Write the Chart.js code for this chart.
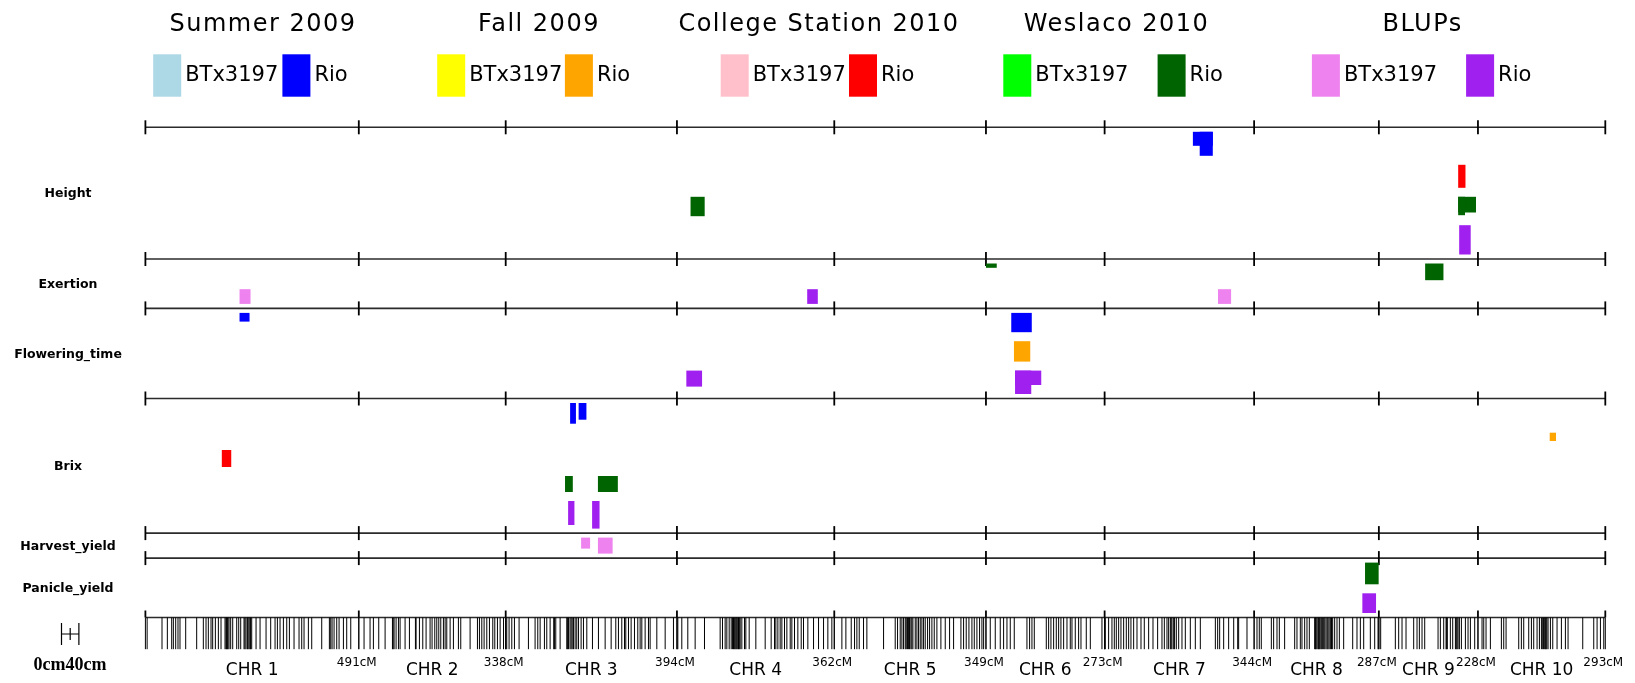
<!DOCTYPE html>
<html>
<head>
<meta charset="utf-8">
<title>QTL map</title>
<script src="https://cdn.jsdelivr.net/npm/chart.js@4.4.1/dist/chart.umd.min.js"></script>
<style>
  html, body { margin: 0; padding: 0; background: #ffffff; }
  canvas { display: block; }
</style>
</head>
<body>
<canvas id="qtl" width="1635" height="683"></canvas>
<script>
// ---- Map data -------------------------------------------------------------
const chromosomes = ['1', '2', '3', '4', '5', '6', '7', '8', '9', '10'];
const chromosomeLengths = [491, 338, 394, 362, 349, 273, 344, 287, 228, 293]; // cM
const traits = ['Height', 'Exertion', 'Flowering_time', 'Brix', 'Harvest_yield', 'Panicle_yield'];
const environments = ['Summer 2009', 'Fall 2009', 'College Station 2010', 'Weslaco 2010', 'BLUPs'];
const parents = ['BTx3197', 'Rio'];

// QTL intervals: [environment, parental allele, chromosome, start cM, end cM, score]
const heightQTL = [
  ['Weslaco 2010', 'Rio', '4', 31.3, 63.8, 19.4],
  ['Summer 2009', 'Rio', '7', 203.1, 248.9, 14.0],
  ['Summer 2009', 'Rio', '7', 218.8, 248.9, 24.0],
  ['College Station 2010', 'Rio', '9', 182.5, 199.3, 23.0],
  ['Weslaco 2010', 'Rio', '9', 182.5, 223.5, 15.7],
  ['Weslaco 2010', 'Rio', '9', 182.5, 198.2, 18.4],
  ['BLUPs', 'Rio', '9', 184.8, 211.3, 29.3]
];
const exertionQTL = [
  ['Weslaco 2010', 'Rio', '6', 0.0, 24.8, 4.3],
  ['Weslaco 2010', 'Rio', '9', 106.5, 148.6, 16.7],
  ['BLUPs', 'BTx3197', '1', 216.6, 241.9, 14.7],
  ['BLUPs', 'Rio', '4', 299.7, 324.1, 14.7],
  ['BLUPs', 'BTx3197', '7', 260.9, 291.0, 14.7]
];
const floweringQTL = [
  ['Summer 2009', 'Rio', '1', 216.6, 239.6, 8.7],
  ['Summer 2009', 'Rio', '6', 58.2, 105.4, 19.3],
  ['Fall 2009', 'Rio', '6', 64.4, 101.9, 20.4],
  ['BLUPs', 'Rio', '6', 66.9, 127.2, 14.4],
  ['BLUPs', 'Rio', '6', 66.9, 104.2, 23.4],
  ['BLUPs', 'Rio', '4', 21.6, 57.8, 16.0]
];
const brixQTL = [
  ['Summer 2009', 'Rio', '3', 148.2, 161.6, 20.7],
  ['Summer 2009', 'Rio', '3', 167.8, 185.7, 16.7],
  ['Fall 2009', 'Rio', '10', 165.1, 179.6, 8.3],
  ['College Station 2010', 'Rio', '1', 175.8, 197.5, 17.0],
  ['Weslaco 2010', 'Rio', '3', 136.5, 154.4, 16.0],
  ['Weslaco 2010', 'Rio', '3', 212.2, 258.0, 16.0],
  ['BLUPs', 'Rio', '3', 143.6, 158.1, 24.0],
  ['BLUPs', 'Rio', '3', 198.8, 215.9, 27.6]
];
const harvestQTL = [
  ['BLUPs', 'BTx3197', '3', 173.5, 194.2, 11.0],
  ['BLUPs', 'BTx3197', '3', 212.2, 246.0, 16.0]
];
const panicleQTL = [
  ['Weslaco 2010', 'Rio', '8', 255.2, 286.5, 21.7],
  ['BLUPs', 'Rio', '8', 249.0, 280.5, 19.7]
];

// Genetic marker positions (cM) on each chromosome
const markersChr1 = [0, 4, 38.2, 50.5, 60.5, 64.3, 69.7, 75.0, 79.6, 92.7, 118.0, 133.3, 139.5, 144.8, 151.0, 154.8, 161.0, 167.9, 174.0, 183.2, 185.5, 186.8, 188.6, 190.0, 192.4, 196.2, 200.9, 210.1, 214.7, 219.3, 226.9, 229.0, 231.5, 234.6, 236.0, 238.4, 240.7, 242.0, 244.6, 254.6, 263.8, 277.6, 288.3, 298.3, 303.7, 309.8, 317.5, 325.2, 331.3, 342.0, 353.5, 359.7, 365.0, 375.0, 382.7, 405.7, 423.3, 426.4, 429.5, 434.1, 440.2, 445.6, 455.6, 463.2, 472.5, 491];
const markersChr2 = [0, 12.1, 25.9, 33.6, 45.9, 60.5, 77.4, 79.0, 81.2, 85.8, 91.2, 95.0, 106.5, 116.5, 130.3, 131.8, 139.5, 147.2, 154.8, 164.0, 168.6, 174.8, 179.4, 184.0, 188.6, 194.7, 198.6, 202.4, 210.1, 217.7, 229.2, 234.6, 256.1, 273.0, 277.6, 283.0, 288.3, 294.5, 300.6, 308.3, 312.9, 319.0, 325.2, 333.0, 338];
const markersChr3 = [0, 2.4, 7.8, 14.0, 20.1, 30.8, 52.3, 67.6, 73.8, 79.2, 89.1, 94.5, 102.2, 110.5, 112.1, 115.2, 125.2, 140.5, 142.5, 144.4, 148.0, 150.5, 153.0, 155.9, 159.7, 163.5, 167.4, 173.5, 178.9, 186.6, 199.6, 213.4, 228.8, 242.6, 253.3, 259.4, 267.1, 273.3, 276.3, 282.5, 288.6, 296.3, 303.9, 309.3, 313.2, 320.8, 328.5, 332.3, 347.7, 366.9, 386.0, 394];
const markersChr4 = [0, 2.0, 11.2, 25.0, 41.9, 63.4, 99.4, 104.8, 110.9, 114.8, 120.2, 124.8, 128.0, 130.1, 132.0, 134.0, 136.0, 137.8, 140.0, 141.6, 143.5, 145.5, 149.3, 155.4, 158.5, 166.2, 181.5, 203.0, 216.8, 224.5, 227.6, 232.2, 237.5, 241.4, 247.5, 252.9, 260.6, 264.4, 270.5, 278.2, 285.9, 291.2, 301.2, 314.3, 325.8, 337.3, 347.2, 356.4, 362];
const markersChr5 = [0, 17.5, 26.7, 39.0, 46.6, 52.0, 57.4, 67.3, 75.0, 113.4, 140.2, 145.6, 151.7, 155.6, 159.4, 163.3, 165.6, 168.6, 171.0, 173.2, 176.3, 178.5, 180.9, 186.3, 190.1, 193.9, 197.8, 201.6, 205.5, 209.3, 214.7, 219.3, 224.6, 230.0, 236.1, 245.3, 255.3, 265.3, 274.5, 291.4, 297.5, 303.6, 309.8, 316.7, 322.1, 328.2, 334.3, 339.7, 343.6, 349];
const markersChr6 = [0, 9.9, 21.4, 32.9, 40.6, 48.3, 55.9, 65.1, 94.3, 100.4, 105.8, 111.2, 138.8, 144.2, 149.5, 155.7, 161.8, 167.2, 172.5, 178.7, 186.4, 194.0, 197.9, 205.5, 213.2, 218.6, 230.8, 240.1, 266.9, 273];
const markersChr7 = [0, 1.6, 9.2, 16.9, 22.3, 26.9, 32.3, 37.6, 43.8, 49.9, 55.3, 60.6, 66.8, 74.5, 83.7, 91.3, 101.3, 111.3, 122.0, 132.0, 137.4, 143.5, 147.3, 151.2, 153.0, 155.0, 158.9, 161.0, 165.0, 170.4, 178.0, 185.7, 197.2, 208.7, 220.2, 254.8, 260.1, 264.7, 273.9, 285.4, 297.0, 306.2, 308.4, 327.6, 344];
const markersChr8 = [0, 6.6, 11.9, 16.5, 39.6, 44.9, 52.6, 58.0, 70.2, 93.3, 98.6, 106.3, 110.1, 116.3, 121.6, 127.0, 139.3, 141.0, 142.4, 144.5, 147.0, 148.5, 150.0, 152.0, 154.6, 157.0, 160.0, 162.5, 165.4, 168.0, 170.0, 172.5, 175.4, 178.0, 180.7, 185.3, 190.7, 196.1, 206.0, 226.8, 236.7, 244.4, 252.1, 267.4, 277.4, 285.1, 287];
const markersChr9 = [0, 4.2, 37.9, 45.6, 53.3, 62.5, 80.1, 87.8, 93.2, 99.3, 105.5, 136.2, 141.5, 149.2, 154.6, 156.0, 157.5, 164.5, 169.9, 176.1, 178.0, 180.0, 182.2, 185.3, 189.9, 199.1, 205.2, 210.6, 220.5, 228];
const markersChr10 = [0, 9.4, 13.3, 18.6, 28.6, 53.9, 59.3, 64.7, 93.8, 99.9, 105.3, 116.8, 123.0, 128.3, 136.0, 141.4, 146.0, 149.0, 151.0, 153.6, 155.0, 156.7, 158.5, 161.3, 166.7, 172.1, 182.0, 192.0, 201.2, 207.3, 241.1, 266.4, 274.1, 281.8, 289.5, 293];

// ---- Styling ----------------------------------------------------------------
const palette = {
  'Summer 2009': { BTx3197: '#add8e6', Rio: '#0000ff' },
  'Fall 2009': { BTx3197: '#ffff00', Rio: '#ffa500' },
  'College Station 2010': { BTx3197: '#ffc0cb', Rio: '#ff0000' },
  'Weslaco 2010': { BTx3197: '#00ff00', Rio: '#006400' },
  'BLUPs': { BTx3197: '#ee82ee', Rio: '#a020f0' }
};
const titleCenters = [263, 539, 819, 1116.5, 1422.6];
const legendSwatchX = [[153.2, 282.4], [437.2, 564.9], [720.7, 849.0], [1003.3, 1157.6], [1311.9, 1466.1]];

const FONT = '"DejaVu Sans", "Liberation Sans", sans-serif';
const PAD = 4.5;   // space above the first lane and below the last lane of a trait panel
const GAP = 9.0;   // space between environment lanes
const RUG = 31.7;  // height of the marker strip

// ---- Layout of the trait panels --------------------------------------------
const qtlByTrait = [heightQTL, exertionQTL, floweringQTL, brixQTL, harvestQTL, panicleQTL];
const chrOffset = [];
chromosomeLengths.reduce((acc, len, i) => { chrOffset[i] = acc; return acc + len; }, 0);
const genomeLength = chromosomeLengths.reduce((a, b) => a + b, 0);
const chrIndex = name => chromosomes.indexOf(name);

const rowBounds = [];
const boxesByGroup = {};
let cursor = 0;
qtlByTrait.forEach(list => {
  const top = cursor;
  let y = top + PAD;
  let first = true;
  environments.forEach(env => {
    const lane = list.filter(q => q[0] === env);
    if (!lane.length) return;
    if (!first) y += GAP;
    first = false;
    const laneHeight = Math.max(...lane.map(q => q[5]));
    lane.forEach(q => {
      const key = q[0] + ' ' + q[1];
      const off = chrOffset[chrIndex(q[2])];
      (boxesByGroup[key] = boxesByGroup[key] || []).push({
        x: off + q[3], y: y, x1: off + q[4], y1: y + q[5]
      });
    });
    y += laneHeight;
  });
  cursor = y + PAD;
  rowBounds.push([top, cursor]);
});
const rugTop = cursor;
const yMax = rugTop + RUG;

const PLOT_TOP = 127.3, PLOT_LEFT = 145.4, PLOT_RIGHT = 1605.3;
const W = 1635, H = 683;

const datasets = [];
environments.forEach(env => parents.forEach(p => {
  const key = env + ' ' + p;
  if (!boxesByGroup[key]) return;
  datasets.push({
    label: key,
    data: boxesByGroup[key],
    backgroundColor: palette[env][p],
    borderColor: palette[env][p],
    pointRadius: 0,
    pointHoverRadius: 0,
    showLine: false
  });
}));

const markers = [markersChr1, markersChr2, markersChr3, markersChr4, markersChr5,
                 markersChr6, markersChr7, markersChr8, markersChr9, markersChr10];

// ---- Drawing -----------------------------------------------------------------
const qtlMapPlugin = {
  id: 'qtlMap',
  afterDatasetsDraw(chart) {
    const { ctx, chartArea: area, scales } = chart;
    const px = v => scales.x.getPixelForValue(v);
    const py = v => scales.y.getPixelForValue(v);
    ctx.save();

    // environment titles
    ctx.fillStyle = '#000';
    ctx.textAlign = 'center';
    ctx.textBaseline = 'alphabetic';
    ctx.font = '24px ' + FONT;
    if ('letterSpacing' in ctx) ctx.letterSpacing = '1.5px';
    environments.forEach((env, i) => ctx.fillText(env, titleCenters[i], 31));
    if ('letterSpacing' in ctx) ctx.letterSpacing = '0px';

    // legend: one swatch per parental allele
    ctx.font = '21px ' + FONT;
    ctx.textAlign = 'left';
    ctx.textBaseline = 'middle';
    environments.forEach((env, i) => {
      parents.forEach((p, j) => {
        const sx = legendSwatchX[i][j];
        ctx.fillStyle = palette[env][p];
        ctx.fillRect(sx, 54.3, 28, 42.4);
        ctx.fillStyle = '#000';
        ctx.fillText(p, sx + 32, 76);
      });
    });

    // panel lines with chromosome boundary ticks
    const boundaries = chrOffset.concat([genomeLength]);
    const lineLevels = [0].concat(rowBounds.map(r => r[1]));
    lineLevels.forEach((lv, k) => {
      const yy = py(lv);
      ctx.strokeStyle = '#2b2b2b';
      ctx.lineWidth = 1.6;
      ctx.beginPath();
      ctx.moveTo(px(0), yy);
      ctx.lineTo(px(genomeLength), yy);
      ctx.stroke();
      ctx.strokeStyle = '#000';
      ctx.lineWidth = 1.8;
      const isRug = k === lineLevels.length - 1;
      boundaries.forEach(b => {
        ctx.beginPath();
        ctx.moveTo(px(b), yy - 7);
        ctx.lineTo(px(b), isRug ? yy : yy + 7);
        ctx.stroke();
      });
    });

    // trait names
    ctx.font = 'bold 12.5px ' + FONT;
    ctx.textAlign = 'center';
    ctx.textBaseline = 'middle';
    ctx.fillStyle = '#000';
    traits.forEach((t, i) => {
      const mid = (py(rowBounds[i][0]) + py(rowBounds[i][1])) / 2 + 1;
      ctx.fillText(t, 68, mid);
    });

    // QTL boxes
    chart.data.datasets.forEach(ds => {
      ctx.fillStyle = ds.backgroundColor;
      ds.data.forEach(b => {
        const x0 = px(b.x), x1 = px(b.x1), y0 = py(b.y), y1 = py(b.y1);
        ctx.fillRect(x0, y0, x1 - x0, y1 - y0);
      });
    });

    // marker strip
    ctx.strokeStyle = '#000';
    ctx.lineWidth = 1;
    const r0 = py(rugTop), r1 = py(rugTop + RUG);
    markers.forEach((list, i) => {
      list.forEach(m => {
        const xx = px(chrOffset[i] + m);
        ctx.beginPath();
        ctx.moveTo(xx, r0);
        ctx.lineTo(xx, r1);
        ctx.stroke();
      });
    });

    // chromosome names and lengths
    ctx.fillStyle = '#000';
    chromosomes.forEach((c, i) => {
      ctx.font = '17px ' + FONT;
      ctx.textAlign = 'center';
      ctx.textBaseline = 'middle';
      ctx.fillText('CHR ' + c, px(chrOffset[i] + chromosomeLengths[i] / 2), area.bottom + 21);
      ctx.font = '12px ' + FONT;
      ctx.fillText(chromosomeLengths[i] + 'cM', px(chrOffset[i] + chromosomeLengths[i]) - 2, area.bottom + 14);
    });

    // 40 cM scale bar
    const barW = px(40) - px(0);
    const bx = 61.5, by = r0 + 16.5;
    ctx.strokeStyle = '#000';
    ctx.lineWidth = 1.2;
    ctx.beginPath();
    ctx.moveTo(bx, by - 11); ctx.lineTo(bx, by + 11);
    ctx.moveTo(bx + barW, by - 11); ctx.lineTo(bx + barW, by + 11);
    ctx.moveTo(bx, by); ctx.lineTo(bx + barW, by);
    ctx.moveTo(bx + barW / 2, by - 6); ctx.lineTo(bx + barW / 2, by + 6);
    ctx.stroke();
    ctx.font = 'bold 18px "Liberation Serif", "DejaVu Serif", serif';
    ctx.textAlign = 'center';
    ctx.textBaseline = 'middle';
    ctx.fillText('0cm' + '40cm', 70, area.bottom + 16);

    ctx.restore();
  }
};

new Chart(document.getElementById('qtl'), {
  type: 'scatter',
  data: { datasets },
  options: {
    responsive: false,
    animation: false,
    devicePixelRatio: 1,
    events: [],
    layout: {
      padding: { left: PLOT_LEFT, right: W - PLOT_RIGHT, top: PLOT_TOP, bottom: H - PLOT_TOP - yMax }
    },
    plugins: { legend: { display: false }, title: { display: false }, tooltip: { enabled: false } },
    scales: {
      x: { type: 'linear', min: 0, max: genomeLength, bounds: 'data', display: false },
      y: { type: 'linear', min: 0, max: yMax, reverse: true, bounds: 'data', display: false }
    }
  },
  plugins: [qtlMapPlugin]
});
</script>
</body>
</html>
